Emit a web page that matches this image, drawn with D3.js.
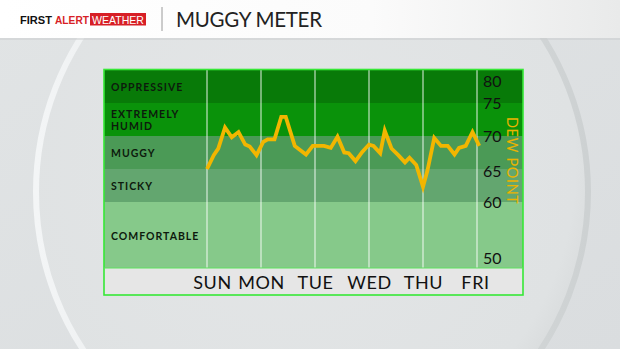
<!DOCTYPE html>
<html>
<head>
<meta charset="utf-8">
<script src="https://cdn.jsdelivr.net/npm/d3@7"></script>
<style>
  html, body { margin: 0; padding: 0; }
  body { width: 620px; height: 349px; overflow: hidden; background: #dfe2e3; }
</style>
</head>
<body>
<div id="chart"></div>
<script>
// day labels, one per gridline (hours from Sunday 00:00)
const days = ['SUN', 'MON', 'TUE', 'WED', 'THU', 'FRI'];
const dayHours = [0, 24, 48, 72, 96, 120];

// muggy bands, from top to bottom
const bandNames = [['OPPRESSIVE'], ['EXTREMELY', 'HUMID'], ['MUGGY'], ['STICKY'], ['COMFORTABLE']];
const bandTop = [80, 75, 70, 65, 60];
const bandBottom = [75, 70, 65, 60, 50];

const dewTicks = [80, 75, 70, 65, 60, 50];

// dew point forecast
const hours = [0, 3, 5, 8, 11, 14, 17, 19, 22, 25, 27, 30, 33, 35, 39, 44, 47, 52, 55, 58, 61, 63, 66, 69, 72,
               74, 77, 79, 82, 85, 88, 90, 93, 96, 98, 101, 104, 107, 110, 112, 115, 118, 121];
const dewPoint = [65.0, 67.1, 68.1, 71.3, 69.8, 70.6, 68.7, 68.4, 67.1, 69.1, 69.5, 69.5, 72.9, 72.9, 68.5, 67.2,
                  68.5, 68.5, 68.2, 69.9, 67.5, 67.4, 66.2, 67.6, 68.7, 68.5, 67.4, 70.8, 68.1, 67.1, 66.0,
                  66.7, 65.6, 62.3, 64.8, 69.7, 68.5, 68.5, 67.2, 68.2, 68.5, 70.6, 68.5];

class MuggyMeter {
    constructor(config) {
        this.config = {
            parent: config.parent,
            width: config.width || 620,
            height: config.height || 349
        };
        this.init();
    }

    init() {
        let self = this;
        self.svg = d3.select(self.config.parent).append('svg')
            .attr('width', self.config.width)
            .attr('height', self.config.height)
            .style('display', 'block');

        const defs = self.svg.append('defs');
        const bg = defs.append('linearGradient').attr('id', 'bg').attr('x1', 0).attr('x2', 1).attr('y1', 0).attr('y2', 1);
        bg.append('stop').attr('offset', '0%').attr('stop-color', '#e1e4e5');
        bg.append('stop').attr('offset', '100%').attr('stop-color', '#dadddf');

        const disc = defs.append('radialGradient').attr('id', 'disc').attr('cx', '45%').attr('cy', '45%').attr('r', '60%');
        disc.append('stop').attr('offset', '0%').attr('stop-color', '#e4e6e7');
        disc.append('stop').attr('offset', '88%').attr('stop-color', '#dfe2e3');
        disc.append('stop').attr('offset', '100%').attr('stop-color', '#d6d9da');

        const rim = defs.append('linearGradient').attr('id', 'rim').attr('x1', 0).attr('x2', 1);
        rim.append('stop').attr('offset', '0%').attr('stop-color', '#f3f5f6');
        rim.append('stop').attr('offset', '45%').attr('stop-color', '#e2e5e6');
        rim.append('stop').attr('offset', '100%').attr('stop-color', '#cdd1d2');

        const head = defs.append('linearGradient').attr('id', 'head').attr('x1', 0).attr('x2', 1);
        head.append('stop').attr('offset', '0%').attr('stop-color', '#ffffff');
        head.append('stop').attr('offset', '60%').attr('stop-color', '#fbfbfb');
        head.append('stop').attr('offset', '100%').attr('stop-color', '#e9eaea');

        self.svg.append('rect').attr('width', self.config.width).attr('height', self.config.height).attr('fill', 'url(#bg)');
        self.svg.append('ellipse')
            .attr('cx', 312).attr('cy', 192).attr('rx', 276).attr('ry', 282)
            .attr('fill', 'url(#disc)')
            .attr('stroke', 'url(#rim)').attr('stroke-width', 6);

        // header bar
        self.svg.append('rect').attr('width', self.config.width).attr('height', 38).attr('fill', 'url(#head)');
        self.svg.append('rect').attr('y', 38).attr('width', self.config.width).attr('height', 2).attr('fill', '#c9cccd').attr('opacity', 0.5);

        const logo = self.svg.append('g').attr('font-family', 'Liberation Sans, Arial, sans-serif')
            .attr('font-size', 11.5);
        logo.append('text').attr('x', 20).attr('y', 23.5).attr('fill', '#111').attr('font-weight', 'bold')
            .attr('textLength', 32).attr('lengthAdjust', 'spacingAndGlyphs').text('FIRST');
        logo.append('text').attr('x', 55).attr('y', 23.5).attr('fill', '#d71f26').attr('font-weight', 'bold')
            .attr('textLength', 34).attr('lengthAdjust', 'spacingAndGlyphs').text('ALERT');
        logo.append('rect').attr('x', 90).attr('y', 13).attr('width', 56).attr('height', 12.5).attr('fill', '#d71f26');
        logo.append('text').attr('x', 92).attr('y', 23.5).attr('fill', '#fff')
            .attr('textLength', 52).attr('lengthAdjust', 'spacingAndGlyphs').text('WEATHER');

        self.svg.append('line').attr('x1', 162).attr('x2', 162).attr('y1', 7).attr('y2', 31)
            .attr('stroke', '#9a9a9a').attr('stroke-width', 1);
        self.svg.append('text').attr('x', 176).attr('y', 26.5)
            .attr('font-family', 'Lato, sans-serif').attr('font-size', 20.5).attr('fill', '#222')
            .attr('textLength', 146).attr('lengthAdjust', 'spacing').text('MUGGY METER');

        self.frame = { left: 104, right: 523, top: 70, plotBottom: 268, bottom: 295 };
        self.xscale = d3.scaleLinear().domain([0, 120]).range([207, 477]);
        self.yscale = d3.scaleLinear().domain([50, 80]).range([self.frame.plotBottom, self.frame.top]);
        self.chart = self.svg.append('g');
    }

    render() {
        let self = this;
        const f = self.frame;
        const bandFill = ['#087a08', '#0a920a', '#4b9a56', '#63a66f', '#86c98a'];

        // bands
        self.chart.selectAll('rect.band')
            .data(bandTop)
            .join('rect')
            .attr('class', 'band')
            .attr('x', f.left)
            .attr('width', f.right - f.left)
            .attr('y', d => self.yscale(d))
            .attr('height', (d, i) => self.yscale(bandBottom[i]) - self.yscale(d))
            .attr('fill', (d, i) => bandFill[i]);

        // band names
        const names = self.chart.selectAll('text.band-name')
            .data(bandNames)
            .join('text')
            .attr('class', 'band-name')
            .attr('x', 111)
            .attr('y', (d, i) => (self.yscale(bandTop[i]) + self.yscale(bandBottom[i])) / 2 - (d.length - 1) * 6 + 0.5)
            .attr('font-family', 'Lato, sans-serif')
            .attr('font-weight', 'bold')
            .attr('font-size', 10.5)
            .attr('letter-spacing', 1)
            .attr('fill', '#0d1a0d')
            .attr('dominant-baseline', 'central');
        names.selectAll('tspan')
            .data(d => d)
            .join('tspan')
            .attr('x', 111)
            .attr('dy', (d, i) => i === 0 ? 0 : 12)
            .text(d => d);

        // day gridlines
        self.chart.selectAll('line.grid')
            .data(dayHours)
            .join('line')
            .attr('class', 'grid')
            .attr('x1', d => self.xscale(d))
            .attr('x2', d => self.xscale(d))
            .attr('y1', f.top)
            .attr('y2', f.plotBottom)
            .attr('stroke', 'rgba(255,255,255,0.6)')
            .attr('stroke-width', 1.5);

        // day label strip
        self.chart.append('rect')
            .attr('x', f.left).attr('y', f.plotBottom)
            .attr('width', f.right - f.left).attr('height', f.bottom - f.plotBottom)
            .attr('fill', '#e6e6e6');

        const xaxis = d3.axisBottom(self.xscale)
            .tickValues(dayHours)
            .tickFormat((d, i) => days[i])
            .tickSize(0)
            .tickPadding(0);
        const xg = self.chart.append('g')
            .attr('transform', `translate(0, ${f.plotBottom})`)
            .call(xaxis);
        xg.select('.domain').remove();
        xg.selectAll('text')
            .attr('y', 20.5)
            .attr('dy', 0)
            .attr('dx', (d, i) => i === 0 ? 5 : i === 5 ? -2 : 0)
            .attr('font-family', 'Lato, sans-serif')
            .attr('font-size', 18)
            .attr('letter-spacing', 0.6)
            .attr('fill', '#111');

        // dew point axis on the right
        const yaxis = d3.axisRight(self.yscale)
            .tickValues(dewTicks)
            .tickSize(0)
            .tickPadding(0);
        const yg = self.chart.append('g')
            .attr('transform', `translate(483, 0)`)
            .call(yaxis);
        yg.select('.domain').remove();
        yg.selectAll('text')
            .attr('font-family', 'Lato, sans-serif')
            .attr('font-size', 16)
            .attr('fill', '#111')
            .attr('dy', d => d === 80 ? '1.0em' : d === 50 ? '-0.3em' : d === 65 ? '0.45em' : '0.35em');

        self.chart.append('text')
            .attr('transform', `translate(507, ${self.yscale(66.3)}) rotate(90)`)
            .attr('text-anchor', 'middle')
            .attr('font-family', 'Lato, sans-serif')
            .attr('font-size', 14.5)
            .attr('fill', '#ebb300')
            .attr('textLength', 87)
            .attr('lengthAdjust', 'spacing')
            .text('DEW POINT');

        // dew point line
        const line = d3.line()
            .x((d, i) => self.xscale(hours[i]))
            .y(d => self.yscale(d));
        self.chart.append('path')
            .datum(dewPoint)
            .attr('d', line)
            .attr('fill', 'none')
            .attr('stroke', '#f2b600')
            .attr('stroke-width', 3.8)
            .attr('stroke-linejoin', 'miter');

        // frame
        self.chart.append('rect')
            .attr('x', f.left).attr('y', f.top - 0.5)
            .attr('width', f.right - f.left).attr('height', f.bottom - f.top + 0.5)
            .attr('fill', 'none')
            .attr('stroke', '#36e836')
            .attr('stroke-width', 1.6);
        self.chart.append('line')
            .attr('x1', f.left).attr('x2', f.right)
            .attr('y1', f.plotBottom).attr('y2', f.plotBottom)
            .attr('stroke', '#5fe25f').attr('stroke-width', 1.2);
    }
}

const meter = new MuggyMeter({ parent: '#chart' });
meter.render();
</script>
</body>
</html>
